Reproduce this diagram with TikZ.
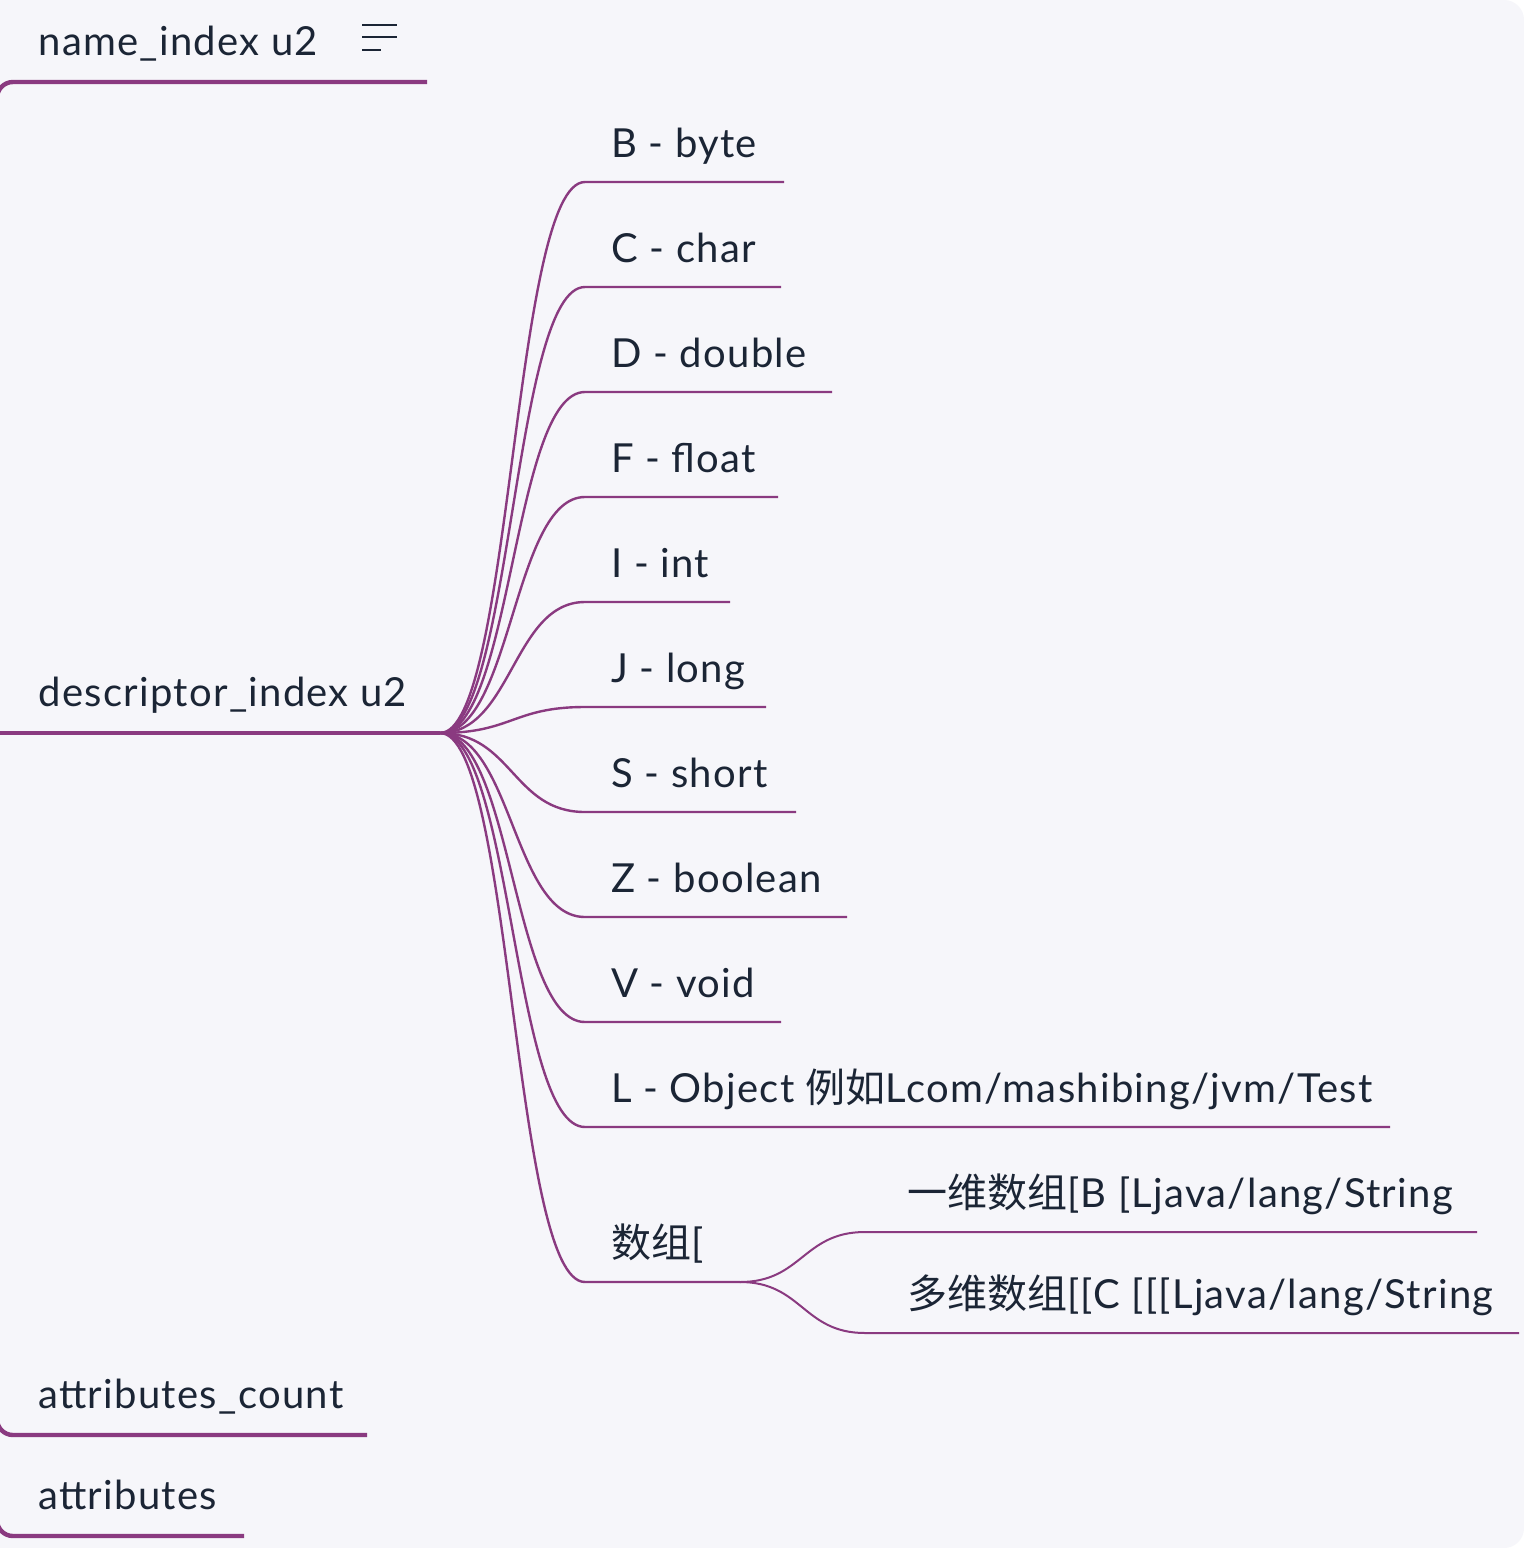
\documentclass[tikz,border=0pt]{standalone}
\usepackage{fontspec}
\setmainfont{Lato}[LetterSpace=3.2]
\newfontfamily\cjk{Noto Sans CJK SC}
\usetikzlibrary{calc}
\definecolor{paper}{HTML}{F6F6FA}
\definecolor{plum}{HTML}{8A3A80}
\definecolor{ink}{HTML}{1B2535}
\tikzstyle{topic} = [anchor=base west,inner sep=0pt,text=ink,font=\fontsize{20}{24}\selectfont]
\tikzstyle{trunk} = [draw=plum,line width=2.2pt]
\tikzstyle{twig} = [draw=plum,line width=1.2pt]
\tikzstyle{leaf} = [draw=plum,line width=1pt]
\begin{document}
\begin{tikzpicture}[x=0.5pt,y=-0.5pt]
  % Canvas
  \useasboundingbox (0,0) rectangle (1524,1548);
  \fill[white] (0,0) rectangle (1524,1548);
  \fill[paper,rounded corners=10pt] (-40,0) rectangle (1524,1548);
  % First level
  \coordinate (root) at (-3,733);
  \foreach \n/\y/\e/\t in {name/82/427/{name\_index u2},desc/733/440/{descriptor\_index u2},count/1435/367/{attributes\_count},attr/1536/244/{attributes}} {
    \node[topic] (\n) at (38,\y-27) {\t};
    \coordinate (\n-end) at (\e,\y);
  }
  \path[trunk,rounded corners=8pt] (root) |- (name-end);
  \path[trunk] (root) -- (desc-end);
  \path[trunk,rounded corners=8pt] (root) |- (count-end);
  \path[trunk,rounded corners=8pt] (root) |- (attr-end);
  % Note icon
  \foreach \y/\e in {25/397,37/397,50/381} {
    \draw[ink,line width=1.4pt] (362,\y) -- (\e,\y);
  }
  % Type codes
  \foreach \n/\y/\e/\t in {B/182/784/{B - byte},C/287/781/{C - char},D/392/832/{D - double},F/497/778/{F - float},I/602/730/{I - int},J/707/766/{J - long},S/812/796/{S - short},Z/917/847/{Z - boolean},V/1022/781/{V - void},L/1127/1390/{L - Object {\cjk 例如}Lcom/mashibing/jvm/Test},arr/1282/740/{{\cjk 数组}[}} {
    \node[topic] (\n) at (611,\y-25) {\t};
    \coordinate (\n-in) at (585,\y);
    \coordinate (\n-end) at (\e,\y);
    \path[twig] (desc-end) .. controls +(72,0) and +(-72,0) .. (\n-in) -- (\n-end);
  }
  % Arrays
  \foreach \n/\y/\e/\t in {one/1232/1477/{{\cjk 一维数组}[B [Ljava/lang/String},multi/1333/1519/{{\cjk 多维数组}[[C [[[Ljava/lang/String}} {
    \node[topic] (\n) at (907,\y-25) {\t};
    \coordinate (\n-in) at (865,\y);
    \coordinate (\n-end) at (\e,\y);
    \path[leaf] (arr-end) .. controls +(62,0) and +(-62,0) .. (\n-in) -- (\n-end);
  }
\end{tikzpicture}
\end{document}
